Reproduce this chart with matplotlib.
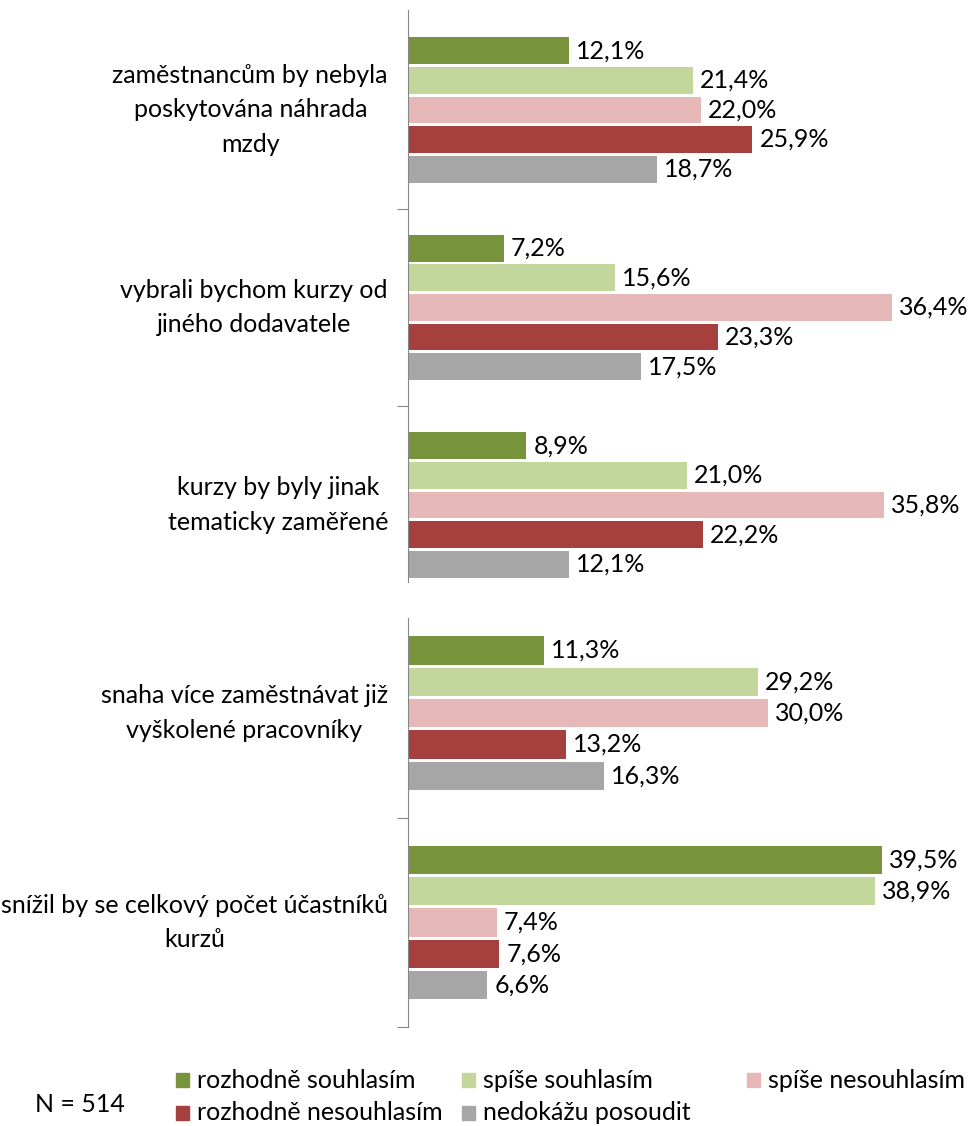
import matplotlib.pyplot as plt
from matplotlib.patches import Rectangle

plt.rcParams['font.family'] = ['Lato', 'DejaVu Sans']

# data
categories_top = ["zaměstnancům by nebyla\nposkytována náhrada\nmzdy",
                  "vybrali bychom kurzy od\njiného dodavatele",
                  "kurzy by byly jinak\ntematicky zaměřené"]
categories_bot = ["snaha více zaměstnávat již\nvyškolené pracovníky",
                  "snížil by se celkový počet účastníků\nkurzů"]
series = ["rozhodně souhlasím", "spíše souhlasím", "spíše nesouhlasím",
          "rozhodně nesouhlasím", "nedokážu posoudit"]
values_top = [[12.1, 21.4, 22.0, 25.9, 18.7],
              [7.2, 15.6, 36.4, 23.3, 17.5],
              [8.9, 21.0, 35.8, 22.2, 12.1]]
values_bot = [[11.3, 29.2, 30.0, 13.2, 16.3],
              [39.5, 38.9, 7.4, 7.6, 6.6]]
note = "N = 514"

colors = ["#77933C", "#C3D69B", "#E6B9B8", "#A5403E", "#A6A6A6"]

W, H = 975, 1126
fig = plt.figure(figsize=(W / 100, H / 100), dpi=100)


def box(left, top, right, bottom):
    return [left / W, 1 - bottom / H, (right - left) / W, (bottom - top) / H]


def draw(ax, cats, vals, xmax, ylim, ticks):
    pitch = 0.15
    for i, row in enumerate(vals):
        for j, v in enumerate(row):
            y = i + (j - 2) * pitch
            ax.barh(y, v, height=0.135, color=colors[j], edgecolor='none')
            ax.annotate(f"{v:.1f}%".replace('.', ','), xy=(v, y), xytext=(5, 0),
                        textcoords='offset points', va='center', ha='left',
                        fontsize=18)
        ax.text(-20 / 567, i, cats[i], transform=ax.get_yaxis_transform(),
                ha='right', va='center', multialignment='center',
                fontsize=18, linespacing=1.62)
    ax.set_xlim(0, xmax)
    ax.set_ylim(*ylim)
    ax.set_yticks(ticks)
    ax.tick_params(axis='y', direction='out', length=8, color='#868686',
                   labelleft=False)
    ax.xaxis.set_visible(False)
    for s in ['top', 'right', 'bottom']:
        ax.spines[s].set_visible(False)
    ax.spines['left'].set_color('#868686')
    ax.patch.set_alpha(0)


ax1 = fig.add_axes(box(408, 10, 975, 582))
draw(ax1, categories_top, values_top, 567 / 13.3, (2.39, -0.506), [0.5, 1.5])

ax2 = fig.add_axes(box(408, 618, 975, 1027))
draw(ax2, categories_bot, values_bot, 567 / 12.0, (1.5, -0.455), [0.5, 1.5])

# legend, laid out like the original
legend_pos = [(176, 1080), (462, 1080), (747, 1080), (176, 1113), (462, 1113)]
for (x, y), name, c in zip(legend_pos, series, colors):
    fig.patches.append(Rectangle((x / W, 1 - (y + 7) / H), 13 / W, 14 / H,
                                 transform=fig.transFigure, color=c))
    fig.text((x + 21) / W, 1 - y / H, name, ha='left', va='center', fontsize=18)

fig.text(35 / W, 1 - 1105 / H, note, ha='left', va='center', fontsize=18)

fig.savefig("out.png", dpi=100)
